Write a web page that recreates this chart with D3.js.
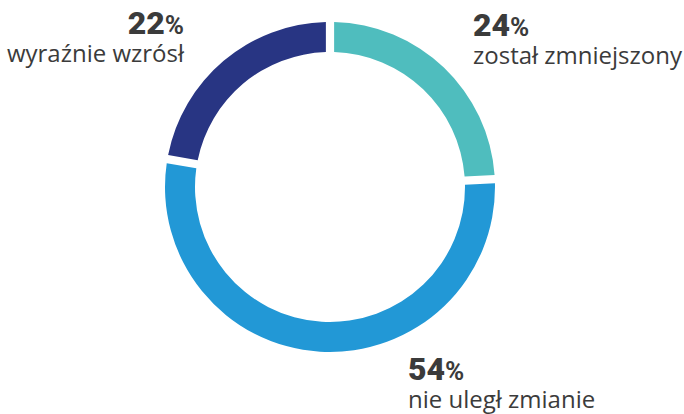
<!DOCTYPE html>
<html>
<head>
<meta charset="utf-8">
<script src="https://cdn.jsdelivr.net/npm/d3@7"></script>
<style>
  body { margin: 0; background: #fff; }
  svg { display: block; }
</style>
</head>
<body>
<svg id="chart"></svg>
<script>
// dane
var categories = ['zostal zmniejszony', 'nie uległ zmianie', 'wyraźnie wzrósł']
var labels = ['został zmniejszony', 'nie uległ zmianie', 'wyraźnie wzrósł']
var values = [24, 54, 22]
var colors = ['#4fbdbe', '#2298d6', '#283583']

var width = 684, height = 414
var cx = 330, cy = 187
var outerR = 165, innerR = 135

var svg = d3.select('#chart')
    .attr('width', width)
    .attr('height', height)

var g = svg.append('g')
    .attr('transform', 'translate(' + cx + ',' + cy + ')')

var data = categories.map(function (c, i) {
    return { name: c, label: labels[i], value: values[i], color: colors[i] }
})

var pie = d3.pie()
    .sort(null)
    .value(d => d.value)
    .padAngle(0.055)

var arc = d3.arc()
    .innerRadius(innerR)
    .outerRadius(outerR)
    .padRadius(150)

g.selectAll('path.slice')
    .data(pie(data))
    .join('path')
    .attr('class', 'slice')
    .attr('d', arc)
    .attr('fill', d => d.data.color)

// podpisy
var labelPos = [
    { x: 473, y: 36, anchor: 'start' },
    { x: 408, y: 380, anchor: 'start' },
    { x: 184, y: 34, anchor: 'end' },
]

var lab = svg.selectAll('g.lab')
    .data(data)
    .join('g')
    .attr('class', 'lab')
    .attr('transform', (d, i) => 'translate(' + labelPos[i].x + ',' + labelPos[i].y + ')')

var num = lab.append('text')
    .attr('text-anchor', (d, i) => labelPos[i].anchor)
    .attr('fill', '#3b3b3b')
    .style('font-family', 'Roboto, "Open Sans", sans-serif')
    .style('font-weight', 900)

num.append('tspan')
    .style('font-size', '32px')
    .text(d => d.value)
num.append('tspan')
    .style('font-size', '26px')
    .style('font-weight', 700)
    .text('%')

lab.append('text')
    .attr('text-anchor', (d, i) => labelPos[i].anchor)
    .attr('y', 28)
    .attr('fill', '#3b3b3b')
    .style('font-family', '"Open Sans", sans-serif')
    .style('font-size', '24px')
    .text(d => d.label)
</script>
</body>
</html>
